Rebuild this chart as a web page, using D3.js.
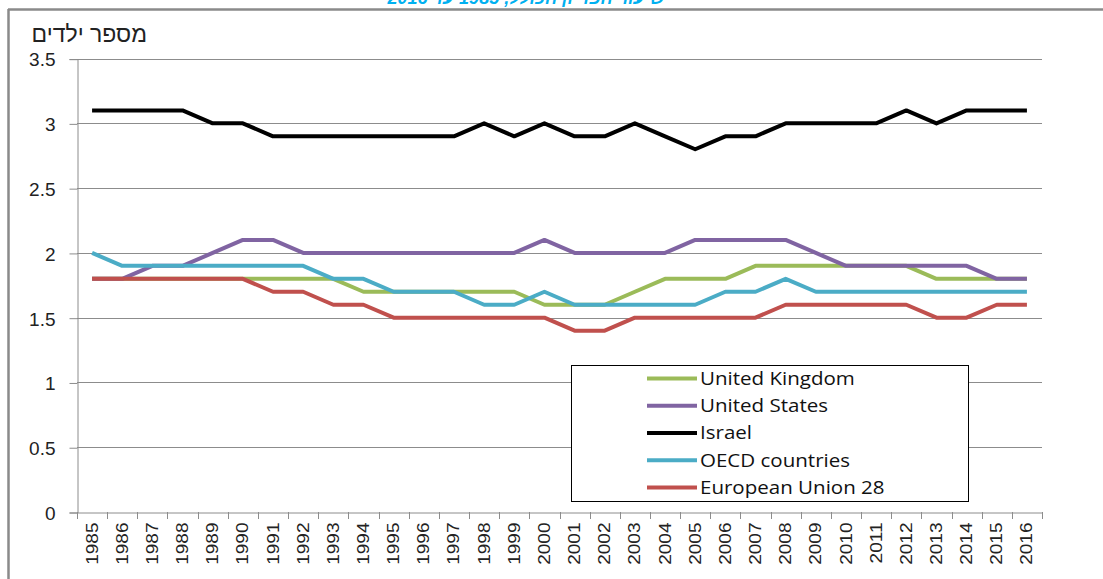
<!DOCTYPE html>
<html>
<head>
<meta charset="utf-8">
<script src="https://cdn.jsdelivr.net/npm/d3@7"></script>
<style>
html,body{margin:0;padding:0;background:#fff;}
svg{display:block;}
</style>
</head>
<body>
<svg id="chart" width="1103" height="579"></svg>
<script>
const years = [1985,1986,1987,1988,1989,1990,1991,1992,1993,1994,1995,1996,1997,1998,1999,2000,2001,2002,2003,2004,2005,2006,2007,2008,2009,2010,2011,2012,2013,2014,2015,2016];
const yTicks = [0,0.5,1,1.5,2,2.5,3,3.5];
const seriesNames = ["United Kingdom","United States","Israel","OECD countries","European Union 28"];
const seriesColors = ["#9BBB59","#8064A2","#000000","#4BACC6","#C0504D"];
const ukValues     = [1.8,1.8,1.8,1.8,1.8,1.8,1.8,1.8,1.8,1.7,1.7,1.7,1.7,1.7,1.7,1.6,1.6,1.6,1.7,1.8,1.8,1.8,1.9,1.9,1.9,1.9,1.9,1.9,1.8,1.8,1.8,1.8];
const usValues     = [1.8,1.8,1.9,1.9,2.0,2.1,2.1,2.0,2.0,2.0,2.0,2.0,2.0,2.0,2.0,2.1,2.0,2.0,2.0,2.0,2.1,2.1,2.1,2.1,2.0,1.9,1.9,1.9,1.9,1.9,1.8,1.8];
const israelValues = [3.1,3.1,3.1,3.1,3.0,3.0,2.9,2.9,2.9,2.9,2.9,2.9,2.9,3.0,2.9,3.0,2.9,2.9,3.0,2.9,2.8,2.9,2.9,3.0,3.0,3.0,3.0,3.1,3.0,3.1,3.1,3.1];
const oecdValues   = [2.0,1.9,1.9,1.9,1.9,1.9,1.9,1.9,1.8,1.8,1.7,1.7,1.7,1.6,1.6,1.7,1.6,1.6,1.6,1.6,1.6,1.7,1.7,1.8,1.7,1.7,1.7,1.7,1.7,1.7,1.7,1.7];
const euValues     = [1.8,1.8,1.8,1.8,1.8,1.8,1.7,1.7,1.6,1.6,1.5,1.5,1.5,1.5,1.5,1.5,1.4,1.4,1.5,1.5,1.5,1.5,1.5,1.6,1.6,1.6,1.6,1.6,1.5,1.5,1.6,1.6];
const yAxisTitle = "מספר ילדים";
const chartTitle = "שיעור הפריון הכולל, 1985 עד 2016";

const seriesValues = [ukValues, usValues, israelValues, oecdValues, euValues];

const svg = d3.select("#chart");
const plotLeft = 77, plotRight = 1042, plotTop = 58.6, plotBottom = 512;

const x = d3.scaleBand().domain(years).range([plotLeft, plotRight]).paddingInner(0).paddingOuter(0);
const y = d3.scaleLinear().domain([0, 3.5]).range([plotBottom, plotTop]);

// frame
svg.append("line").attr("x1", 8).attr("x2", 1103).attr("y1", 9.5).attr("y2", 9.5)
  .attr("stroke", "#8a8a8a").attr("stroke-width", 2.5);
svg.append("line").attr("x1", 8.5).attr("x2", 8.5).attr("y1", 9).attr("y2", 579)
  .attr("stroke", "#8a8a8a").attr("stroke-width", 2.5);

// title (cut off at the top edge as in the reference)
svg.append("text")
  .attr("x", 526).attr("y", 3.5)
  .attr("text-anchor", "middle")
  .attr("direction", "rtl")
  .attr("font-family", "Liberation Sans, Arial, sans-serif")
  .attr("font-size", 18).attr("font-weight", "bold").attr("font-style", "italic")
  .attr("fill", "#00B0F0")
  .text(chartTitle);

// gridlines
svg.append("g").selectAll("line").data(yTicks.filter(d => d > 0)).join("line")
  .attr("x1", plotLeft).attr("x2", plotRight)
  .attr("y1", d => Math.round(y(d)) + 0.5).attr("y2", d => Math.round(y(d)) + 0.5)
  .attr("stroke", "#8c8c8c").attr("stroke-width", 1);

// y axis
const yAxis = d3.axisLeft(y).tickValues(yTicks).tickSize(8).tickPadding(14)
  .tickFormat(d => String(d));
const gy = svg.append("g").attr("transform", `translate(${plotLeft + 0.5},0.5)`).call(yAxis);
gy.select(".domain").attr("stroke", "#8c8c8c");
gy.selectAll(".tick line").attr("stroke", "#8c8c8c");
gy.selectAll(".tick text").attr("font-family", "Liberation Sans, Arial, sans-serif")
  .attr("font-size", 19).attr("fill", "#222").attr("dy", "0.36em");

// x axis
const xAxis = d3.axisBottom(x).tickSize(0).tickFormat(d => String(d));
const gx = svg.append("g").attr("transform", `translate(0,${plotBottom + 0.5})`).call(xAxis);
gx.select(".domain").attr("stroke", "#8c8c8c");
gx.selectAll(".tick text")
  .attr("font-family", "Liberation Sans, Arial, sans-serif")
  .attr("font-size", 17).attr("fill", "#222")
  .attr("text-anchor", "end")
  .attr("y", 0)
  .attr("dy", null)
  .attr("transform", "translate(0,10) rotate(-90) scale(1.12,0.92) translate(0,6)");
// boundary ticks
const bounds = years.map(d => x(d)).concat([plotRight]);
svg.append("g").selectAll("line").data(bounds).join("line")
  .attr("x1", d => Math.round(d) + 0.5).attr("x2", d => Math.round(d) + 0.5)
  .attr("y1", plotBottom).attr("y2", plotBottom + 7)
  .attr("stroke", "#8c8c8c").attr("stroke-width", 1);

// y axis title
svg.append("text")
  .attr("x", 147).attr("y", 42)
  .attr("text-anchor", "start")
  .attr("direction", "rtl")
  .attr("font-family", "Liberation Sans, Arial, sans-serif")
  .attr("font-size", 23).attr("fill", "#222")
  .text(yAxisTitle);

// lines
const line = d3.line().x((d, i) => x(years[i]) + x.bandwidth() / 2).y(d => y(d));
svg.append("g").selectAll("path").data(seriesValues).join("path")
  .attr("d", d => line(d))
  .attr("fill", "none")
  .attr("stroke", (d, i) => seriesColors[i])
  .attr("stroke-width", 4)
  .attr("stroke-linejoin", "round");

// legend
const lg = svg.append("g");
lg.append("rect").attr("x", 571.5).attr("y", 365.5).attr("width", 397).attr("height", 136)
  .attr("fill", "#fff").attr("stroke", "#000").attr("stroke-width", 1);
const rowY = d3.scalePoint().domain(seriesNames).range([378.5, 487.5]);
const items = lg.selectAll("g.item").data(seriesNames).join("g").attr("class", "item");
items.append("line").attr("x1", 647).attr("x2", 697)
  .attr("y1", d => rowY(d)).attr("y2", d => rowY(d))
  .attr("stroke", (d, i) => seriesColors[i]).attr("stroke-width", 4);
items.append("text").attr("x", 700).attr("y", d => rowY(d)).attr("dy", "0.36em")
  .attr("font-family", "Open Sans, Noto Sans, sans-serif")
  .attr("font-size", 18).attr("fill", "#111")
  .text(d => d)
  .each(function() {
    const w = this.getComputedTextLength();
    d3.select(this).attr("textLength", w * 1.14).attr("lengthAdjust", "spacingAndGlyphs");
  });
</script>
</body>
</html>
